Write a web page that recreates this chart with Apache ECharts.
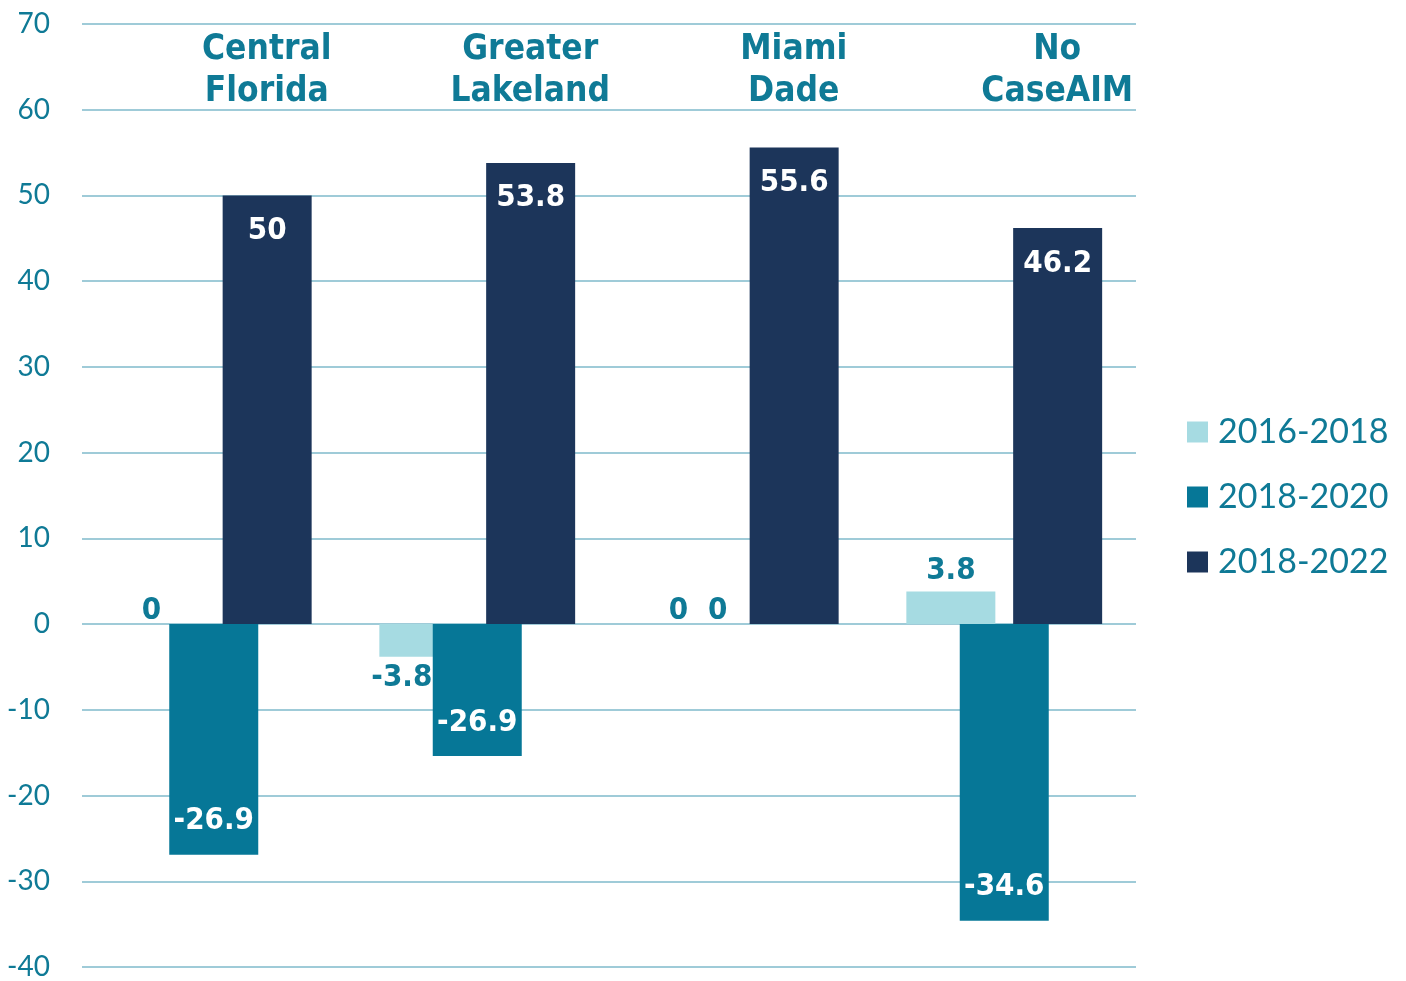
<!DOCTYPE html>
<html>
<head>
<meta charset="utf-8">
<script src="https://cdn.jsdelivr.net/npm/echarts@6/dist/echarts.min.js"></script>
<style>
  html, body { margin: 0; padding: 0; background: #fff; }
  #chart { width: 1406px; height: 981px; }
</style>
</head>
<body>
<div id="chart"></div>
<script>
var categories = ['Central\nFlorida', 'Greater\nLakeland', 'Miami\nDade', 'No\nCaseAIM'];
var seriesNames = ['2016-2018', '2018-2020', '2018-2022'];
var values2016_2018 = [0, -3.8, 0, 3.8];
// the Lakeland 2018-2020 bar is drawn shorter than its printed label in the source
var values2018_2020 = [-26.9, -15.4, 0, -34.6];
var labels2018_2020 = ['-26.9', '-26.9', '0', '-34.6'];
var values2018_2022 = [50, 53.8, 55.6, 46.2];
var yTicks = { min: -40, max: 70, interval: 10 };

var teal = '#0f7a96';
var condensed = '"DejaVu Sans Condensed", sans-serif';

var chart = echarts.init(document.getElementById('chart'));

function outsideLabel(pos, dx, dist) {
    return { position: pos, distance: dist, color: teal, offset: [dx || 0, 0] };
}

var option = {
    animation: false,
    legend: {
        orient: 'vertical',
        left: 1182,
        top: 410,
        itemWidth: 21,
        itemHeight: 21,
        itemGap: 31,
        icon: 'rect',
        data: seriesNames,
        textStyle: { color: teal, fontSize: 34, fontFamily: 'Lato', padding: [0, 0, 0, 5] }
    },
    grid: { left: 82, right: 270, top: 24, bottom: 11, containLabel: false },
    xAxis: {
        type: 'category',
        position: 'top',
        data: categories,
        axisLine: { show: false },
        axisTick: { show: false },
        axisLabel: {
            inside: true,
            margin: 5,
            color: teal,
            fontSize: 35,
            fontWeight: 'bold',
            fontFamily: condensed,
            lineHeight: 42,
            verticalAlign: 'top',
            padding: [0, 0, 0, 106]
        }
    },
    yAxis: {
        type: 'value',
        min: yTicks.min,
        max: yTicks.max,
        interval: yTicks.interval,
        axisLine: { show: false },
        axisTick: { show: false },
        axisLabel: { color: teal, fontSize: 28, fontFamily: 'Lato', margin: 32 },
        splitLine: { lineStyle: { color: '#9fcbd8', width: 2 } }
    },
    series: [
        {
            name: seriesNames[0],
            type: 'bar',
            barWidth: 89,
            barGap: '-40%',
            barCategoryGap: '25%',
            itemStyle: { color: '#a6dbe2' },
            label: {
                show: true,
                position: 'top',
                distance: 5,
                color: teal,
                fontSize: 31,
                fontWeight: 'bold',
                fontFamily: condensed
            },
            data: values2016_2018.map(function (v) {
                var item = { value: v };
                if (v < 0) item.label = outsideLabel('bottom', -22, 6);
                if (v === 0) item.label = outsideLabel('top', -9, -2);
                return item;
            })
        },
        {
            name: seriesNames[1],
            type: 'bar',
            barWidth: 89,
            barGap: '-40%',
            itemStyle: { color: '#067797' },
            label: {
                show: true,
                position: 'insideBottom',
                distance: 18,
                color: '#fff',
                fontSize: 31,
                fontWeight: 'bold',
                fontFamily: condensed,
                formatter: function (p) { return labels2018_2020[p.dataIndex]; }
            },
            data: values2018_2020.map(function (v) {
                var item = { value: v };
                if (v === 0) item.label = outsideLabel('top', -23, -2);
                return item;
            })
        },
        {
            name: seriesNames[2],
            type: 'bar',
            barWidth: 89,
            barGap: '-40%',
            itemStyle: { color: '#1c355a' },
            label: {
                show: true,
                position: 'insideTop',
                distance: 20,
                color: '#fff',
                fontSize: 31,
                fontWeight: 'bold',
                fontFamily: condensed
            },
            data: values2018_2022
        }
    ]
};

chart.setOption(option);
</script>
</body>
</html>
